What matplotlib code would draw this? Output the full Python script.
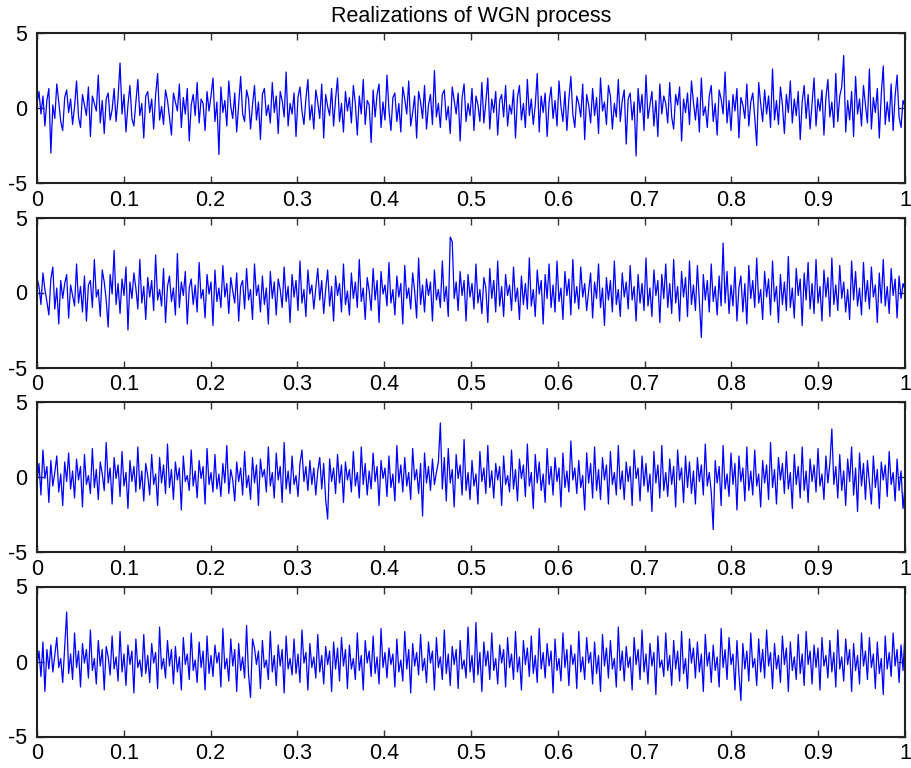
import numpy as np
import matplotlib
matplotlib.use('Agg')
from matplotlib import pyplot as plt

plt.rcParams['font.family'] = ['Liberation Sans', 'DejaVu Sans']
plt.rcParams['axes.unicode_minus'] = False

title = 'Realizations of WGN process'
xticks = [0, 0.1, 0.2, 0.3, 0.4, 0.5, 0.6, 0.7, 0.8, 0.9, 1]
xticklabels = ['0', '0.1', '0.2', '0.3', '0.4', '0.5', '0.6', '0.7', '0.8', '0.9', '1']
yticks = [-5, 0, 5]

w1 = [0.3, 1.1, -0.4, 0.8, -1.2, 0.5, 1.3, -3.0, 0.2, -0.7, 1.6, 0.4, -0.9, -1.5, 0.7, 1.2, -0.3, 0.6, -1.1, 0.1,
      1.8, -0.6, -1.3, 0.9, 0.2, -0.5, 1.4, -1.9, 0.8, 0.3, -0.2, 2.2, -1.0, 0.5, -1.7, 0.6, 1.0, -0.8, -0.1, 1.3,
      -0.9, 0.7, 3.0, -0.4, 0.9, -1.6, 0.2, 1.5, -0.7, -1.2, 0.4, 1.9, -0.5, 0.3, -2.0, 0.8, 1.1, -0.3, 0.6, -1.4,
      0.9, 2.3, -0.8, 0.1, -1.1, 1.2, 0.5, -0.6, -1.8, 1.0, 0.4, -0.2, 1.6, -1.3, 0.7, -0.4, 1.3, -2.2, 0.2, 0.9,
      -0.5, 1.7, -1.0, 0.6, 0.3, -1.5, 1.1, -0.2, 0.8, 2.0, -0.9, 0.4, -3.1, 1.4, -0.3, 0.5, -1.2, 1.8, 0.1, -0.7,
      1.0, -1.6, 0.3, 2.1, -0.4, -0.9, 1.2, 0.6, -1.4, 0.2, 1.5, -0.8, 0.4, -2.1, 0.9, 1.3, -0.5, 0.2, -1.0, 1.7,
      -0.3, 0.8, -1.7, 1.1, 0.5, -0.6, 2.4, -1.2, 0.3, -0.4, 1.0, -1.9, 0.7, 1.4, -0.2, -1.1, 0.6, 1.9, -0.8, 0.2,
      -1.4, 1.2, 0.4, -0.7, 1.6, -2.0, 0.9, 0.1, -0.5, 1.3, -1.2, 0.6, 2.0, -0.9, 0.3, -1.6, 1.1, -0.2, 0.7, -1.0,
      1.5, 0.3, -1.8, 0.8, -0.4, 1.9, -1.1, 0.5, 0.2, -2.3, 1.2, -0.6, 0.9, 1.6, -1.3, 0.4, -0.8, 2.2, -0.1, -1.5,
      0.7, 1.0, -0.9, 0.3, -1.6, 1.4, 0.6, -0.4, 1.8, -1.2, -0.3, 0.8, -2.0, 1.1, 0.4, -0.7, 1.5, -1.4, 0.2, 0.9,
      -1.1, 2.5, -0.6, 0.3, -1.3, 0.9, 1.2, -0.8, 0.1, -1.7, 1.4, 0.5, -0.4, 1.0, -2.2, 0.7, 1.6, -0.9, 0.3, -0.5,
      1.3, -1.5, 0.8, 0.2, -0.9, 1.7, -1.0, 0.4, 2.0, -1.4, 0.6, -0.3, 1.1, -1.8, 0.5, 0.9, -0.6, 1.5, -1.2, 0.2,
      -0.4, 1.2, -2.0, 0.7, 1.5, -0.8, 0.3, -1.3, 1.9, -0.5, 0.6, -1.1, 0.2, 2.3, -1.6, 0.8, -0.3, 1.0, -1.9, 0.4,
      1.4, -0.7, 0.5, -1.2, 1.8, 0.1, -0.9, 1.1, -1.5, 0.6, 2.1, -0.4, -1.3, 0.8, 0.3, -0.6, 1.6, -2.1, 0.9, 0.2,
      -1.0, 1.3, -0.5, 0.7, -1.7, 2.0, -0.2, 0.4, -1.1, 1.5, 0.8, -1.4, 0.3, -0.6, 1.9, -0.9, 0.5, 1.2, -2.4, 0.6,
      1.0, -0.8, 0.4, -3.2, 1.3, -0.3, 0.9, -1.5, 2.2, -0.7, 0.2, 1.1, -1.2, 0.5, -1.9, 1.6, -0.4, 0.8, 0.3, -1.0,
      1.7, -0.6, -1.4, 0.9, 0.2, 1.4, -2.2, 0.6, -0.3, 1.0, -1.1, 1.8, 0.4, -0.8, 0.7, -1.6, 2.0, -0.5, 0.1, -1.3,
      0.8, 1.5, -0.9, 0.3, -1.8, 1.2, 0.6, -0.4, 2.4, -1.0, 0.5, -1.5, 0.9, -0.2, 1.3, -2.0, 0.7, 0.2, -0.7, 1.6,
      -1.2, 0.4, 1.0, -0.6, -2.5, 1.7, 0.3, -0.9, 1.2, -0.4, 0.8, -1.3, 2.6, -0.8, 0.5, -1.1, 1.4, 0.2, -1.7, 0.9,
      -0.3, 1.8, -1.0, 0.6, -0.5, 1.1, -2.1, 0.4, 1.5, -0.7, 0.9, -1.4, 0.3, 2.0, -1.2, 0.6, -0.2, 1.2, -1.8, 0.7,
      1.9, -0.6, 0.4, -1.3, 2.3, -0.9, 0.8, 1.4, 3.5, -1.6, 0.5, -0.8, 1.1, -1.9, 2.1, -0.4, 0.6, -1.2, 1.5, 0.2,
      -1.0, 2.6, -1.4, 0.7, -0.3, 1.3, -2.0, 0.9, 2.8, -1.1, 0.4, -0.9, 1.6, -1.5, 0.8, 2.2, -0.6, -1.3, 0.5, 0.1]

w2 = [1.0, 0.4, -0.8, 1.3, 0.2, -0.6, -1.5, 0.9, 1.7, -1.1, 0.3, -2.1, 0.8, -0.4, 0.6, 1.2, -1.7, 0.5, -0.2, -0.9,
      1.9, -0.7, 0.4, -1.3, 1.1, -1.9, 0.5, 0.8, -1.0, 2.2, -0.3, 0.2, -1.6, 1.5, 0.7, -0.5, -2.3, 1.2, -0.1, 2.8,
      -0.8, 0.6, -1.4, 0.9, -0.2, 1.7, -2.5, 0.7, -0.4, 1.3, 0.3, -1.1, 2.2, -0.7, 0.4, -1.8, 1.0, -0.3, 0.8, -1.2,
      2.5, -0.5, 0.2, -0.9, 1.6, -2.0, 0.4, 1.1, -0.6, 0.3, -1.5, 2.6, -1.0, 0.7, -0.2, 1.4, -2.1, 0.3, 0.9, -0.8,
      0.5, -1.3, 2.0, -0.4, 0.2, -1.7, 1.2, -0.1, 0.7, -2.2, 1.5, -0.6, 0.3, -1.0, 1.8, -0.3, 0.6, -1.4, 1.0, 0.1,
      -0.7, 1.3, -1.9, 0.4, 0.8, -1.1, 1.6, -0.5, 0.2, -1.8, 1.9, -0.2, 0.5, -1.3, 1.1, -0.8, 0.3, -2.1, 1.4, -0.4,
      0.7, -1.5, 0.9, 0.2, -1.0, 1.7, -0.6, 0.4, -2.0, 1.2, -0.3, 0.8, -1.2, 2.1, -0.7, 0.2, -1.6, 1.5, -0.1, 0.5,
      -1.1, 0.3, 1.6, -0.5, 0.8, -1.4, 0.2, 1.5, -0.9, 0.4, -1.9, 1.1, -0.2, 0.6, -1.3, 1.9, -0.8, 0.1, -1.5, 1.3,
      -0.4, 0.7, -1.0, 2.2, -0.6, 0.3, -1.8, 1.0, 0.1, -1.2, 1.6, -0.5, 0.8, -2.0, 1.4, -0.1, 0.5, -0.9, 2.0, -0.7,
      0.2, -1.5, 1.1, -0.3, 0.6, -2.1, 1.8, -0.4, 0.3, -1.1, 1.3, 0.1, -1.7, 2.3, -0.8, 0.5, -1.3, 0.9, -0.2, 0.7,
      -1.9, 1.5, -0.5, 0.2, -1.0, 2.1, -0.6, 0.4, -1.6, 3.7, 3.4, -0.4, 0.7, -1.2, 1.4, -0.2, 0.8, -1.9, 1.2, -0.3,
      0.6, -1.1, 1.9, -0.7, 0.2, -1.4, 1.0, 0.3, -2.0, 1.6, -0.4, 0.8, -1.3, 2.1, -0.9, 0.4, -1.6, 1.2, -0.2, 0.5,
      -1.2, 1.7, -0.6, 0.3, -1.8, 1.1, -0.8, 0.6, -1.1, 2.3, -0.9, 0.2, -1.6, 1.5, -0.1, 0.8, -2.1, 1.2, -0.4, 1.9,
      -1.0, 0.5, -1.3, 2.1, -0.6, 0.3, -1.8, 1.4, -0.2, 0.9, -1.5, 2.2, -0.7, 0.4, -1.1, 1.7, -0.3, 0.6, -1.2, 0.1,
      1.3, -1.7, 0.7, -0.4, 1.9, -1.0, 0.3, -2.2, 1.0, -0.5, 0.8, -1.3, 2.1, -0.8, 0.2, -1.6, 1.3, -0.3, 0.7, -1.1,
      1.8, -0.5, 0.4, -1.9, 1.2, -0.7, 0.6, -1.2, 2.3, -0.9, 0.3, -1.6, 1.5, -0.2, 0.8, -2.0, 1.2, -0.4, 1.9, -1.0,
      0.6, -1.4, 2.2, -0.7, 0.4, -1.9, 1.4, -0.3, 1.0, -1.6, 2.1, -0.8, 0.5, -1.2, 1.8, -0.6, -3.0, 1.2, -0.5, 0.8,
      -1.3, 1.9, -0.6, 0.4, -1.5, 1.1, -0.9, 3.3, -0.7, 1.4, -1.4, 0.5, -0.9, 1.7, -1.9, 0.3, 1.1, -1.3, 0.6, -2.1,
      1.8, -0.4, 0.8, -1.0, 2.3, -0.7, 0.2, -1.8, 1.4, -0.3, 0.9, -1.5, 2.1, -0.6, 0.4, -2.0, 1.2, -0.8, 0.7, -1.2,
      2.4, -1.0, 0.3, -1.7, 1.6, -0.2, 0.9, -2.2, 1.3, -0.5, 2.0, -1.1, 0.6, -1.4, 2.2, -0.7, 0.4, -1.9, 1.5, -0.3,
      1.0, -1.6, 2.3, -0.8, 0.5, -1.2, 1.8, -0.4, 0.7, -1.3, 0.2, -1.8, 2.1, -0.5, 1.4, -0.9, 0.3, -1.5, 2.0, -0.6,
      0.8, -1.1, 1.7, -0.3, 0.5, -2.0, 1.3, -0.7, 2.2, -0.9, 0.4, -1.4, 1.6, -0.2, 0.9, -1.7, 1.1, -0.4, 0.6, 0.2]

w3 = [-0.4, 0.9, -1.2, 1.8, -0.1, 0.7, -1.7, 1.1, -0.6, 0.3, 1.4, -1.0, 0.2, -1.9, 1.0, -0.3, 1.6, -0.8, 0.4, -1.4,
      1.2, -0.2, 0.7, -2.0, 1.5, -0.5, 0.1, -1.1, 1.9, -0.7, 0.5, -1.5, 1.0, 0.2, -0.9, 2.3, -0.4, 0.6, -1.8, 1.3,
      -0.1, 0.8, -1.3, 1.7, -0.6, 0.3, -2.1, 1.1, -0.3, 0.7, -1.0, 2.0, -0.8, 0.4, -1.6, 0.9, 0.1, -1.2, 1.5, -0.5,
      0.2, -1.9, 1.3, -0.4, 0.8, -1.1, 2.2, -0.7, 0.5, -1.5, 1.0, -0.2, 0.6, -2.2, 1.4, -0.3, 0.1, -0.9, 1.8, -0.6,
      0.4, -1.4, 1.1, -0.1, 0.7, -1.8, 1.9, -0.5, 0.3, -1.0, 1.5, -0.8, 0.2, -1.3, 0.9, -0.4, 2.1, -1.1, 0.5, -0.2,
      -1.6, 1.0, -0.3, 0.6, -1.2, 1.7, -0.7, 0.1, -1.5, 1.3, -0.4, 0.8, -1.9, 1.2, 0.0, 0.5, -1.0, 2.0, -0.6, 0.3,
      -1.4, 1.6, -0.2, 0.7, -1.7, 2.3, -0.8, 0.4, -1.1, 1.4, -0.5, 0.1, -1.3, 0.9, 1.8, -0.3, 0.7, -0.9, 1.1, -0.5,
      0.6, -1.2, 0.4, 1.3, -0.8, 0.9, -1.5, -2.8, 1.2, -0.3, 0.6, -1.1, 1.5, -0.4, 0.8, -1.7, 1.0, -0.2, 0.5, -1.0,
      1.7, -0.6, 0.3, -1.4, 2.0, -0.5, 0.9, -1.2, 0.4, -0.8, 1.6, -0.3, 0.7, -1.9, 1.1, -0.1, 0.6, -1.3, 1.4, -0.7,
      0.2, -1.6, 2.1, -0.4, 0.8, -1.0, 1.3, -0.6, 0.3, -1.5, 1.9, -0.2, 0.5, -1.1, 0.9, -2.6, 1.6, -0.4, 0.7, -0.9,
      1.2, -0.5, 0.3, 1.0, 3.6, -0.8, 1.3, -1.6, 1.9, -0.4, 0.5, -2.0, 1.5, -0.1, 0.8, -1.2, 2.5, -0.9, 0.3, -1.5,
      1.1, -0.6, 0.2, -1.8, 1.7, -0.3, 0.6, -1.1, 2.1, -0.7, 0.4, -1.4, 0.9, -0.2, 0.7, -1.9, 1.4, -0.5, 0.1, -1.0,
      1.8, -0.8, 0.5, -1.6, 1.2, -0.1, 0.8, -1.3, 2.2, -0.6, 0.3, -2.1, 1.5, -0.4, 1.0, -0.9, 0.2, -1.7, 1.9, -0.5,
      0.7, -1.2, 1.3, -0.3, 0.6, -2.0, 1.6, -0.7, 0.4, -1.0, 2.4, -0.2, 0.6, -1.1, 1.1, -0.7, 0.1, -2.2, 1.6, -0.4,
      0.9, -1.4, 2.0, -0.9, 0.5, -1.5, 1.3, -0.2, 0.8, -1.8, 1.7, -0.5, 0.3, -1.2, 2.1, -0.8, 0.4, -1.5, 1.0, -0.3,
      0.7, -1.9, 1.8, -0.1, 0.6, -1.6, 1.4, -0.6, 0.9, -1.0, 0.2, -2.3, 1.7, -0.4, 0.8, -1.4, 2.1, -0.9, 0.3, -1.3,
      1.2, -0.5, 0.7, -2.0, 1.8, -0.2, 0.6, -1.7, 1.4, -0.7, 1.0, -1.1, 0.4, -1.8, 1.3, -0.3, 0.8, -1.2, 2.2, -0.6,
      0.3, -1.0, -3.5, 1.1, -0.4, 0.7, -1.9, 2.1, -0.8, 0.2, -1.3, 1.6, -0.5, 0.9, -2.2, 1.4, -0.3, 0.6, -1.6, 2.0,
      -0.9, 0.4, -1.2, 1.8, -0.6, 0.2, -2.0, 1.1, -0.4, 0.8, -1.5, 2.3, -0.7, 0.5, -1.8, 1.3, -0.2, 0.9, -1.1, 1.7,
      -0.8, 0.3, -2.1, 1.5, -0.5, 0.7, -1.4, 2.0, -0.9, 0.4, -1.7, 1.2, -0.3, 0.8, -1.0, 1.9, -0.6, 0.2, -1.5, 1.4,
      -0.4, 0.9, 3.2, -0.5, 0.7, -1.4, 1.5, -0.9, 0.4, -1.9, 1.2, -0.3, 2.0, -1.2, 0.6, -2.3, 1.6, -0.6, 0.9, -1.5,
      1.1, -0.4, -1.8, 1.4, -0.7, 0.5, -2.1, 1.0, -0.2, 0.8, -1.3, 1.7, -0.5, 0.3, -1.6, 1.2, -0.9, 0.4, -2.1, -0.6]

w4 = [-0.3, 0.7, -1.0, 1.3, -2.0, 0.8, -0.5, 1.1, -0.7, 0.4, 1.6, -0.4, 0.2, -1.4, 1.0, 3.3, -0.8, 0.5, -1.2, 1.9,
      -0.4, 0.7, -1.7, 1.2, -0.1, 0.8, -1.1, 2.1, -0.6, 0.2, -1.5, 1.4, -0.3, 0.8, -1.9, 1.0, 0.3, -0.9, 1.7, -0.5,
      0.3, -1.3, 2.0, -0.7, 0.5, -1.6, 1.1, -0.2, 0.7, -2.1, 1.5, -0.4, 0.1, -1.0, 1.8, -0.8, 0.4, -1.4, 1.2, -0.1,
      0.6, -1.8, 2.3, -0.5, 0.2, -1.1, 1.4, -0.3, 0.8, -1.5, 1.0, -0.7, 0.3, -1.9, 1.6, -0.2, 0.5, -1.2, 1.9, -0.6,
      0.1, -1.4, 1.3, -0.4, 0.7, -1.9, 1.7, -0.8, 0.4, -1.0, 1.1, -0.1, 0.6, -1.7, 2.2, -0.5, 0.2, -1.3, 1.5, -0.3,
      0.8, -2.0, 1.2, -0.6, 0.3, -1.1, 2.4, -0.9, -2.4, 1.5, 0.9, -0.2, 0.7, -1.8, 1.4, -0.4, 0.1, -1.2, 2.0, -0.7,
      0.4, -1.6, 1.1, -0.3, 0.8, -2.1, 1.7, -0.5, 0.2, -0.9, 1.5, -0.8, 0.5, -1.4, 2.1, -0.1, 0.6, -1.9, 1.2, -0.4,
      0.3, -1.1, 1.8, -0.7, 0.4, -1.5, 1.0, -0.2, 0.7, -2.0, 1.3, -0.5, 0.9, -1.3, 1.6, -0.3, 0.8, -1.8, 1.1, -0.5,
      0.2, -1.2, 1.9, -0.6, 0.4, -1.9, 1.4, -0.1, 0.7, -1.0, 1.7, -0.8, 0.3, -1.5, 2.2, -0.4, 0.6, -1.1, 0.9, -0.2,
      0.5, -1.7, 1.5, -0.7, 0.1, -1.3, 2.0, -0.5, 0.8, -2.1, 1.2, -0.3, 0.6, -0.9, 1.8, -0.6, 0.2, -1.4, 1.3, -0.1,
      0.7, -1.9, 1.6, -0.4, 0.3, -1.2, 2.1, -0.8, 0.5, -1.6, 1.0, -0.2, 0.8, -1.8, 1.4, -0.5, 0.1, -1.1, 2.3, -0.7,
      0.4, -1.4, 2.6, -0.9, 0.6, -2.0, 1.3, -0.3, 0.7, -1.2, 1.9, -0.6, 0.2, -1.5, 1.1, -0.1, 0.8, -1.7, 1.6, -0.4,
      0.5, -1.2, 2.0, -0.7, 0.3, -1.9, 1.4, -0.2, 0.9, -1.0, 1.7, -0.8, 0.4, -1.4, 2.2, -0.5, 0.6, -1.1, 1.2, -0.3,
      0.7, -2.1, 1.5, -0.6, 0.2, -1.3, 1.9, -0.4, 0.8, -1.6, 1.1, -0.2, 0.5, -1.8, 2.0, -0.7, 0.3, -1.2, 1.6, -0.1,
      0.6, -1.5, 1.3, -0.8, 0.4, -2.0, 1.8, -0.3, 0.9, -1.1, 1.4, -0.5, 0.2, -1.7, 2.3, -0.6, 0.7, -1.3, 1.0, -0.4,
      0.3, -1.9, 1.6, -0.2, 0.8, -1.2, 2.1, -0.7, 0.5, -1.5, 1.2, -0.3, 0.6, -2.2, 1.7, -0.4, 0.1, -1.0, 1.9, -0.6,
      0.4, -1.6, 1.4, -0.5, 0.7, -1.3, 2.0, -0.8, 0.2, -1.8, 1.5, -0.1, 0.9, -1.1, 1.3, -0.7, 0.5, -2.0, 1.8, -0.3,
      0.6, -1.4, 1.1, -0.6, 0.3, -1.7, 2.2, -0.4, 0.8, -1.2, 1.6, -0.2, 0.5, -1.9, 1.4, -0.8, -2.6, 1.2, -0.5, 0.7,
      -1.3, 1.9, -0.4, 0.2, -1.6, 1.5, -0.7, 0.8, -1.1, 2.1, -0.3, 0.6, -1.8, 1.2, -0.5, 0.4, -1.4, 1.7, -0.2, 0.9,
      -2.0, 1.3, -0.6, 0.3, -1.2, 1.8, -0.8, 0.5, -1.6, 2.0, -0.2, 0.7, -1.5, 1.1, -0.4, 0.9, -1.9, 1.6, -0.3, 0.4,
      -1.1, 1.4, -0.7, 0.6, -1.7, 2.1, -0.5, 0.3, -1.3, 1.5, -0.2, 0.8, -2.0, 1.2, -0.6, 0.4, -1.5, 1.9, -0.3, 0.7,
      -1.2, 1.6, -0.4, 0.5, -1.8, 1.3, -0.8, 0.2, -2.2, 1.7, -0.5, 0.6, -1.0, 1.9, -0.3, 0.8, -1.4, 1.1, -0.6, 1.9]

series = [w1, w2, w3, w4]

W, H = 912, 768
fig = plt.figure(figsize=(W / 100, H / 100), dpi=100)

left, right = 37, 905
top0, h, step = 33, 150, 184.5

for k, w in enumerate(series):
    t = np.linspace(0, 1, len(w))
    y_top = top0 + k * step
    ax = fig.add_axes([left / W, 1 - (y_top + h) / H, (right - left) / W, h / H])
    ax.plot(t, w, color='b', lw=0.9)
    ax.set_xlim(0, 1)
    ax.set_ylim(-5, 5)
    ax.set_xticks(xticks)
    ax.set_xticklabels(xticklabels)
    ax.set_yticks(yticks)
    ax.tick_params(direction='in', top=True, right=True, length=5, width=1,
                   color='#333333', labelsize=15.5)
    ax.tick_params(axis='x', pad=5)
    ax.tick_params(axis='y', pad=7)
    for s in ax.spines.values():
        s.set_linewidth(1.5)
        s.set_color('#222222')
    if k == 0:
        ax.set_title(title, fontsize=15.5, pad=8)

fig.savefig('out.png', dpi=100)
